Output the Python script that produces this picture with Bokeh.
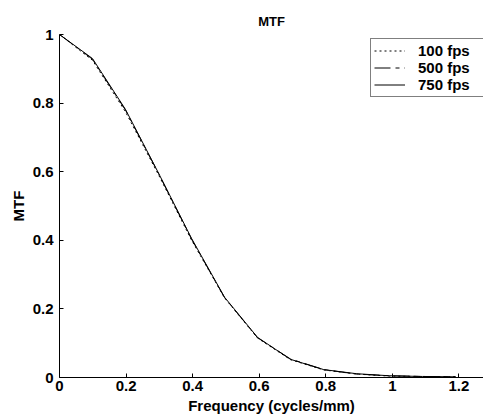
from bokeh.plotting import figure
from bokeh.models import Legend, LegendItem, FixedTicker, Range1d
from bokeh.embed import file_html
from bokeh.resources import INLINE

# --- data ---
freq = [0.0, 0.099, 0.198, 0.298, 0.397, 0.496, 0.595, 0.694, 0.794, 0.893, 0.992, 1.091, 1.190]
mtf_100 = [1.0, 0.925, 0.775, 0.590, 0.400, 0.232, 0.115, 0.052, 0.022, 0.010, 0.004, 0.003, 0.002]
mtf_500 = [1.0, 0.928, 0.780, 0.594, 0.403, 0.233, 0.116, 0.054, 0.023, 0.010, 0.005, 0.003, 0.002]
mtf_750 = [1.0, 0.930, 0.782, 0.595, 0.405, 0.234, 0.117, 0.053, 0.023, 0.011, 0.005, 0.003, 0.002]
series_labels = ["100 fps", "500 fps", "750 fps"]
x_ticks = [0, 0.2, 0.4, 0.6, 0.8, 1.0, 1.2]
y_ticks = [0, 0.2, 0.4, 0.6, 0.8, 1.0]

FONT = "Liberation Sans"

p = figure(width=483, height=420, output_backend="svg", toolbar_location=None,
           x_range=Range1d(0, 1.274), y_range=Range1d(0, 1.0),
           min_border_left=59, min_border_right=0, min_border_top=34, min_border_bottom=43,
           title="MTF")
p.background_fill_color = "white"
p.border_fill_color = "white"
p.outline_line_color = None
p.xgrid.visible = False
p.ygrid.visible = False

p.title.align = "center"
p.title.text_font = FONT
p.title.text_font_size = "13px"
p.title.text_font_style = "bold"
p.title.text_color = "black"
p.title.standoff = 12

for ax, ticks in ((p.xaxis[0], x_ticks), (p.yaxis[0], y_ticks)):
    ax.ticker = FixedTicker(ticks=ticks)
    ax.major_label_overrides = {0: "0", 1: "1"}
    ax.axis_line_color = "black"
    ax.axis_line_width = 1
    ax.major_tick_in = 4
    ax.major_tick_out = 0
    ax.major_tick_line_color = "black"
    ax.minor_tick_line_color = None
    ax.major_label_text_font = FONT
    ax.major_label_text_font_size = "15px"
    ax.major_label_text_font_style = "bold"
    ax.major_label_text_color = "black"
    ax.axis_label_text_font = FONT
    ax.axis_label_text_font_size = "15px"
    ax.axis_label_text_font_style = "bold"
    ax.axis_label_text_color = "black"

p.xaxis.axis_label = "Frequency (cycles/mm)"
p.yaxis.axis_label = "MTF"
p.xaxis.major_label_standoff = 3
p.yaxis.major_label_standoff = 6
p.xaxis.axis_label_standoff = 3
p.yaxis.axis_label_standoff = 3

r1 = p.line(freq, mtf_100, line_color="black", line_width=1, line_dash="2 3")
r2 = p.line(freq, mtf_500, line_color="black", line_width=1, line_dash="16 5 4 5")
r3 = p.line(freq, mtf_750, line_color="black", line_width=1)

legend = Legend(items=[LegendItem(label=series_labels[0], renderers=[r1]),
                       LegendItem(label=series_labels[1], renderers=[r2]),
                       LegendItem(label=series_labels[2], renderers=[r3])],
                location=(311, 280))
legend.border_line_color = "black"
legend.border_line_width = 1
legend.background_fill_color = "white"
legend.background_fill_alpha = 1
legend.padding = 3
legend.spacing = 0
legend.margin = 0
legend.glyph_width = 31
legend.glyph_height = 17
legend.label_height = 17
legend.label_width = 70
legend.label_standoff = 13
legend.label_text_font = FONT
legend.label_text_font_size = "15px"
legend.label_text_font_style = "bold"
legend.label_text_color = "black"
p.add_layout(legend, "center")

open("out.html", "w").write(file_html(p, INLINE))
